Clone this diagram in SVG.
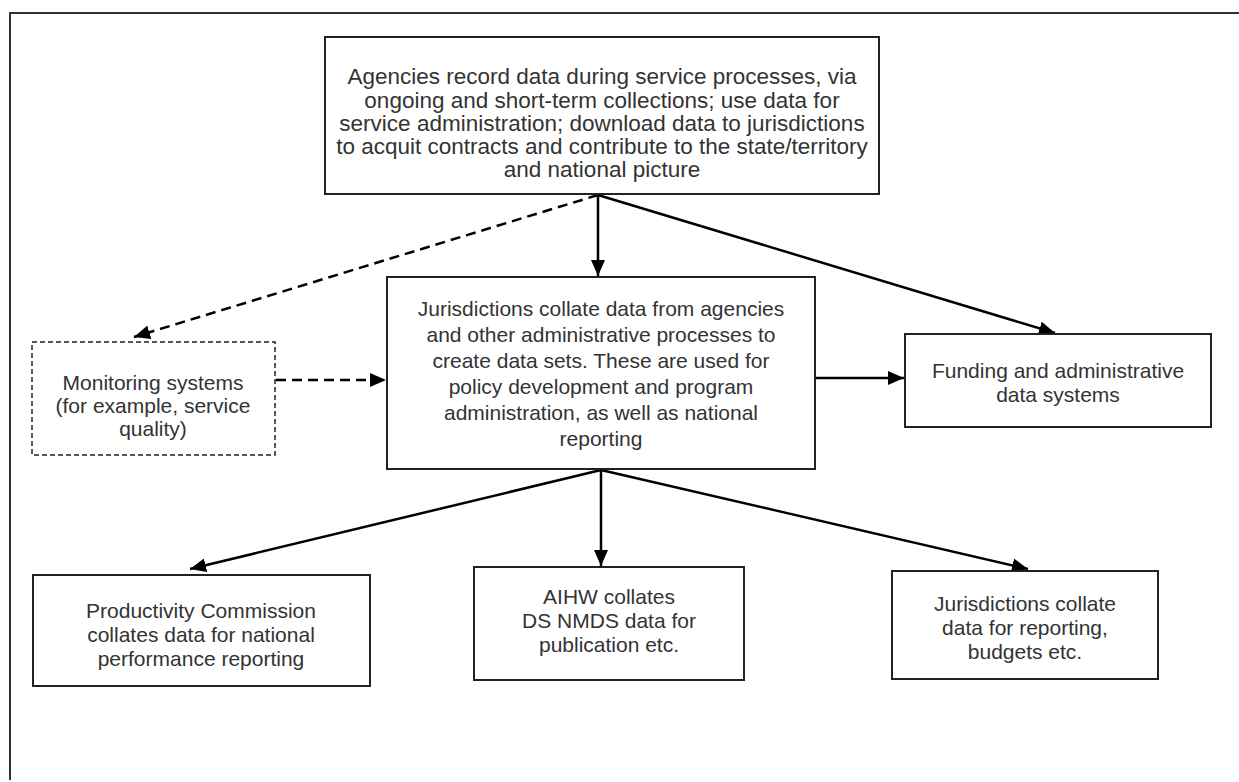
<svg xmlns="http://www.w3.org/2000/svg" width="1239" height="782" viewBox="0 0 1239 782">
<defs>
<marker id="ah" viewBox="0 0 16 14" refX="16" refY="7" markerWidth="16" markerHeight="14" markerUnits="userSpaceOnUse" orient="auto">
<path d="M0,0 L16,7 L0,14 z" fill="#000"/>
</marker>
</defs>
<style>
.box{fill:#fff;stroke:#222;stroke-width:2}
.dbox{fill:#fff;stroke:#222;stroke-width:1.5;stroke-dasharray:5,3}
.t{font-family:"Liberation Sans",Arial,sans-serif;font-size:21px;fill:#333;text-anchor:middle}
.tl{font-size:22.5px}
.c{stroke:#000;stroke-width:2.5;fill:none}
.d{stroke:#000;stroke-width:2.5;fill:none;stroke-dasharray:10,6}
</style>
<rect x="0" y="0" width="1239" height="782" fill="#fff"/>
<path d="M10,780 L10,13 L1239,13" fill="none" stroke="#333" stroke-width="2"/>
<g id="connectors">
<line class="c" x1="598" y1="195" x2="598" y2="276" marker-end="url(#ah)"/>
<line class="c" x1="598" y1="195" x2="1055" y2="333" marker-end="url(#ah)"/>
<line class="d" x1="598" y1="195" x2="134" y2="337" marker-end="url(#ah)"/>
<line class="d" x1="276" y1="380" x2="386" y2="380" marker-end="url(#ah)"/>
<line class="c" x1="815" y1="378" x2="904" y2="378" marker-end="url(#ah)"/>
<line class="c" x1="601" y1="470" x2="190" y2="569" marker-end="url(#ah)"/>
<line class="c" x1="601" y1="470" x2="601" y2="566" marker-end="url(#ah)"/>
<line class="c" x1="601" y1="470" x2="1028" y2="569" marker-end="url(#ah)"/>
</g>
<g id="agencies">
<rect class="box" x="325" y="37" width="554" height="157"/>
<text class="t tl" x="602" y="84">Agencies record data during service processes, via</text>
<text class="t tl" x="602" y="108">ongoing and short-term collections; use data for</text>
<text class="t tl" x="602" y="131">service administration; download data to jurisdictions</text>
<text class="t tl" x="602" y="154">to acquit contracts and contribute to the state/territory</text>
<text class="t tl" x="602" y="177">and national picture</text>
</g>
<g id="jurisdictions">
<rect class="box" x="387" y="277" width="428" height="192"/>
<text class="t" x="601" y="316">Jurisdictions collate data from agencies</text>
<text class="t" x="601" y="342">and other administrative processes to</text>
<text class="t" x="601" y="368">create data sets. These are used for</text>
<text class="t" x="601" y="394">policy development and program</text>
<text class="t" x="601" y="420">administration, as well as national</text>
<text class="t" x="601" y="446">reporting</text>
</g>
<g id="monitoring">
<rect class="dbox" x="32" y="342" width="243" height="113"/>
<text class="t" x="153" y="390">Monitoring systems</text>
<text class="t" x="153" y="413">(for example, service</text>
<text class="t" x="153" y="436">quality)</text>
</g>
<g id="funding">
<rect class="box" x="905" y="334" width="306" height="93"/>
<text class="t" x="1058" y="378">Funding and administrative</text>
<text class="t" x="1058" y="402">data systems</text>
</g>
<g id="productivity">
<rect class="box" x="33" y="575" width="337" height="111"/>
<text class="t" x="201" y="618">Productivity Commission</text>
<text class="t" x="201" y="642">collates data for national</text>
<text class="t" x="201" y="666">performance reporting</text>
</g>
<g id="aihw">
<rect class="box" x="474" y="567" width="270" height="113"/>
<text class="t" x="609" y="604">AIHW collates</text>
<text class="t" x="609" y="628">DS NMDS data for</text>
<text class="t" x="609" y="652">publication etc.</text>
</g>
<g id="jcollate">
<rect class="box" x="892" y="571" width="266" height="108"/>
<text class="t" x="1025" y="611">Jurisdictions collate</text>
<text class="t" x="1025" y="635">data for reporting,</text>
<text class="t" x="1025" y="659">budgets etc.</text>
</g>
</svg>
